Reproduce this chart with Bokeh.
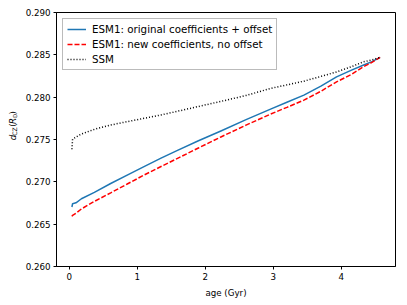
import math
from bokeh.plotting import figure
from bokeh.layouts import row
from bokeh.models import Range1d, Legend, LegendItem, FixedTicker, NumeralTickFormatter
from bokeh.core.properties import value
from bokeh.embed import file_html
from bokeh.resources import INLINE

# ---------------- data ----------------
age = [0.04, 0.05, 0.10, 0.18, 0.37, 0.61, 0.86, 1.10, 1.35, 1.60, 1.90,
       2.23, 2.60, 2.96, 3.20, 3.45, 3.70, 3.93, 4.15, 4.32, 4.45, 4.57]
esm1_orig = [0.26703, 0.26742, 0.26752, 0.26800, 0.26875, 0.26980, 0.27083,
             0.27180, 0.27280, 0.27375, 0.27485, 0.27600, 0.27735, 0.27859,
             0.27940, 0.28024, 0.28130, 0.28239, 0.28320, 0.28377, 0.28420,
             0.28470]
esm1_new = [0.26593, 0.26605, 0.26630, 0.26680, 0.26769, 0.26870, 0.26977,
            0.27080, 0.27181, 0.27280, 0.27400, 0.27530, 0.27670, 0.27800,
            0.27880, 0.27965, 0.28070, 0.28180, 0.28270, 0.28357, 0.28410,
            0.28470]
ssm = [0.27385, 0.27503, 0.27530, 0.27565, 0.27620, 0.27671, 0.27712,
       0.27750, 0.27790, 0.27835, 0.27890, 0.27950, 0.28020, 0.28103,
       0.28145, 0.28189, 0.28245, 0.28298, 0.28360, 0.28416, 0.28440,
       0.28470]
series_labels = ["ESM1: original coefficients + offset",
                 "ESM1: new coefficients, no offset",
                 "SSM"]
x_ticks = [0, 1, 2, 3, 4]
y_ticks = [0.260, 0.265, 0.270, 0.275, 0.280, 0.285, 0.290]
x_label = "age (Gyr)"

# ---------------- layout ----------------
X0, X1 = -0.1865, 4.7965
Y0, Y1 = 0.260, 0.290
LW = 22                      # width of the strip that holds the y label
W, H = 400 - LW, 300
ML, MR, MT, MB = 55 - LW, 5, 12, 33
FONT = "DejaVu Sans"
FS = "8.7px"

p = figure(width=W, height=H, x_range=Range1d(X0, X1), y_range=Range1d(Y0, Y1),
           output_backend="svg", toolbar_location=None,
           min_border_left=ML, min_border_right=MR, min_border_top=MT,
           min_border_bottom=MB)
p.background_fill_color = "white"
p.border_fill_color = "white"
p.grid.visible = False
p.outline_line_color = "black"
p.outline_line_width = 1
p.outline_line_alpha = 1

for ax in (p.xaxis[0], p.yaxis[0]):
    ax.major_tick_in = 0
    ax.major_tick_out = 3
    ax.minor_tick_out = 0
    ax.minor_tick_in = 0
    ax.major_tick_line_color = "black"
    ax.axis_line_color = "black"
    ax.major_label_text_font = FONT
    ax.major_label_text_font_size = FS
    ax.major_label_text_color = "black"
    ax.major_label_standoff = 3

p.xaxis.ticker = FixedTicker(ticks=x_ticks)
p.yaxis.ticker = FixedTicker(ticks=y_ticks)
p.yaxis.formatter = NumeralTickFormatter(format="0.000")
p.xaxis.axis_label = x_label
p.xaxis.axis_label_text_font = FONT
p.xaxis.axis_label_text_font_size = FS
p.xaxis.axis_label_text_font_style = "normal"
p.xaxis.axis_label_text_color = "black"
p.xaxis.axis_label_standoff = 5

lw = 1.5
r1 = p.line(age, esm1_orig, line_color="#1f77b4", line_width=lw, line_join="round")
r2 = p.line(age, esm1_new, line_color="red", line_width=lw, line_dash="5 2")
r3 = p.line(age, ssm, line_color="black", line_width=lw, line_dash="1 2")

legend = Legend(items=[LegendItem(label=series_labels[0], renderers=[r1]),
                       LegendItem(label=series_labels[1], renderers=[r2]),
                       LegendItem(label=series_labels[2], renderers=[r3])],
                location="top_left")
legend.label_text_font = FONT
legend.label_text_font_size = "10.3px"
legend.label_text_color = "black"
legend.glyph_width = 19
legend.glyph_height = 10
legend.label_height = 10
legend.spacing = 3
legend.padding = 4
legend.margin = 6
legend.label_standoff = 6
legend.border_line_color = "#bbbbbb"
legend.border_line_width = 1
legend.border_line_alpha = 1
legend.background_fill_alpha = 0.8
p.add_layout(legend)

# ---------------- y-axis label strip: d_CZ (R_sun) ----------------
lab = figure(width=LW, height=H, x_range=Range1d(0, LW), y_range=Range1d(H, 0),
             output_backend="svg", toolbar_location=None,
             min_border_left=0, min_border_right=0, min_border_top=0,
             min_border_bottom=0)
lab.axis.visible = False
lab.grid.visible = False
lab.outline_line_color = None
lab.background_fill_color = "white"
lab.border_fill_color = "white"

main_px, sub_px = 8.7, 6.1
pieces = [("d", "italic", main_px, 0.0, 0.635 * main_px),
          ("CZ", "normal", sub_px, 2.2, 1.383 * sub_px),
          ("(", "normal", main_px, 0.0, 0.39 * main_px),
          ("R", "italic", main_px, 0.0, 0.695 * main_px),
          ("\u2299", "normal", sub_px, 2.2, 0.84 * sub_px),
          (")", "normal", main_px, 0.0, 0.39 * main_px)]
gap = 2.0
total = sum(pc[4] for pc in pieces) + gap
center_y, center_x = 134.0, 12.0
ystart = center_y + total / 2
for text, style, size, shift, width in pieces:
    if text == "(":
        ystart -= gap
    lab.text(x=[center_x + shift], y=[ystart], text=[text], angle=math.pi / 2,
             text_font=value(FONT), text_font_size=f"{size}px",
             text_font_style=style, text_color="black",
             text_align="left", text_baseline="middle")
    ystart -= width

layout = row(lab, p, spacing=0)
open("out.html", "w").write(file_html(layout, INLINE))
